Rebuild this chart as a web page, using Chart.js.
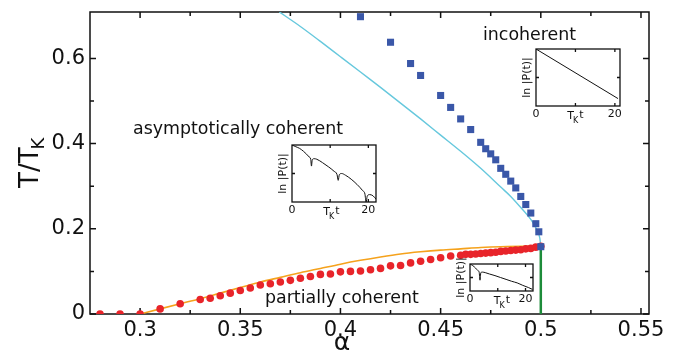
<!DOCTYPE html>
<html>
<head>
<meta charset="utf-8">
<script src="https://cdn.jsdelivr.net/npm/chart.js@4.4.0/dist/chart.umd.min.js"></script>
<style>
  html, body { margin: 0; padding: 0; background: #fff; }
  #wrap { position: relative; width: 680px; height: 354px; overflow: hidden; }
  #wrap canvas { position: absolute; }
</style>
</head>
<body>
<div id="wrap">
  <canvas id="phase" width="680" height="354" style="left:0;top:0"></canvas>
</div>
<script>
// axis ticks
const alphaTicks = [0.3, 0.35, 0.4, 0.45, 0.5, 0.55];
const alphaMinor = [0.325, 0.375, 0.425, 0.475, 0.525];
const tempTicks = [0, 0.2, 0.4, 0.6];
const tempMinor = [0.1, 0.3, 0.5];

// red circles: partially coherent boundary
const redAlpha = [0.28, 0.29, 0.30, 0.31, 0.32, 0.33, 0.335, 0.34, 0.345, 0.35, 0.355, 0.36, 0.365, 0.37,
  0.375, 0.38, 0.385, 0.39, 0.395, 0.40, 0.405, 0.41, 0.415, 0.42, 0.425, 0.43, 0.435, 0.44, 0.445, 0.45,
  0.455, 0.46, 0.4625, 0.465, 0.4675, 0.47, 0.4725, 0.475, 0.4775, 0.48, 0.4825, 0.485, 0.4875, 0.49,
  0.4925, 0.495, 0.4975, 0.5];
const redT = [0, 0, 0, 0.012, 0.024, 0.034, 0.037, 0.043, 0.049, 0.055, 0.061, 0.068, 0.071, 0.075,
  0.079, 0.084, 0.088, 0.093, 0.094, 0.099, 0.100, 0.101, 0.104, 0.107, 0.113, 0.114, 0.120, 0.124, 0.128, 0.132,
  0.136, 0.138, 0.140, 0.140, 0.141, 0.142, 0.143, 0.144, 0.145, 0.147, 0.148, 0.149, 0.150, 0.151,
  0.153, 0.154, 0.157, 0.159];

// blue squares: incoherent boundary
const blueAlpha = [0.41, 0.425, 0.435, 0.44, 0.45, 0.455, 0.46, 0.465, 0.47, 0.4725, 0.475, 0.4775, 0.48,
  0.4825, 0.485, 0.4875, 0.49, 0.4925, 0.495, 0.4975, 0.499, 0.5];
const blueT = [0.698, 0.638, 0.588, 0.560, 0.513, 0.485, 0.458, 0.433, 0.403, 0.388, 0.376, 0.362, 0.342,
  0.328, 0.312, 0.296, 0.276, 0.257, 0.237, 0.212, 0.193, 0.158];

// cyan curve
const cyanAlpha = [0.3695, 0.38, 0.39, 0.40, 0.41, 0.42, 0.43, 0.44, 0.45, 0.46, 0.47, 0.48, 0.485, 0.49, 0.495, 0.498, 0.4995, 0.5];
const cyanT = [0.709, 0.675, 0.640, 0.604, 0.568, 0.532, 0.495, 0.458, 0.420, 0.382, 0.342, 0.298, 0.276, 0.250, 0.222, 0.198, 0.178, 0.159];

// orange curve
const orangeAlpha = [0.30, 0.31, 0.32, 0.33, 0.34, 0.35, 0.36, 0.37, 0.38, 0.39, 0.40, 0.41, 0.42, 0.43, 0.44, 0.45, 0.46, 0.47, 0.48, 0.49, 0.50];
const orangeT = [0, 0.012, 0.024, 0.036, 0.049, 0.062, 0.075, 0.086, 0.097, 0.107, 0.117, 0.126, 0.134, 0.141, 0.146, 0.150, 0.153, 0.156, 0.158, 0.159, 0.159];

// green vertical line at alpha = 1/2
const greenAlpha = [0.5, 0.5];
const greenT = [0, 0.159];

// insets: ln|P(t)| vs T_K t
const asymT = [0, 1, 2, 3, 3.8, 4.5, 4.9, 5.1, 5.3, 5.8, 6.5, 8, 9.5, 11, 11.8, 12.1, 12.4, 13, 14, 15.5, 17, 18.5, 19.1, 19.4, 19.7, 20.3, 21.2, 22];
const asymP = [0, -0.03, -0.06, -0.11, -0.16, -0.21, -0.25, -0.37, -0.26, -0.24, -0.25, -0.31, -0.38, -0.46, -0.52, -0.62, -0.52, -0.50, -0.53, -0.60, -0.69, -0.80, -0.86, -1.0, -0.9, -0.87, -0.89, -0.95];
const incohT = [0, 20.8];
const incohP = [0, -0.87];
const partT = [0, 1, 2, 2.8, 3.3, 3.6, 3.9, 4.5, 5.5, 7, 9, 11, 13, 15, 17, 19, 21, 22.5];
const partP = [0, -0.06, -0.15, -0.24, -0.30, -0.60, -0.32, -0.30, -0.32, -0.37, -0.43, -0.50, -0.57, -0.64, -0.70, -0.79, -0.87, -0.94];

const FONT = "'DejaVu Sans', 'Liberation Sans', sans-serif";
const RED = "#e8242a";
const BLUE = "#3a57a8";
const CYAN = "#66c8dd";
const ORANGE = "#f5a21c";
const GREEN = "#1d8c3a";

Chart.defaults.font.family = FONT;
Chart.defaults.color = "#111";

function pts(xs, ys) {
  return xs.map((x, i) => ({ x: x, y: ys[i] }));
}

// frame + inward tick marks on all four sides
const frameTicks = {
  id: "frameTicks",
  beforeDatasetsDraw(chart, args, o) {
    const { ctx, chartArea: a, scales } = chart;
    const sx = scales.x, sy = scales.y;
    ctx.save();
    ctx.strokeStyle = "#111";
    ctx.lineWidth = o.lineWidth;
    ctx.beginPath();
    (o.x || []).forEach(([v, len]) => {
      const px = sx.getPixelForValue(v);
      ctx.moveTo(px, a.bottom); ctx.lineTo(px, a.bottom - len);
      ctx.moveTo(px, a.top); ctx.lineTo(px, a.top + len);
    });
    (o.y || []).forEach(([v, len]) => {
      const py = sy.getPixelForValue(v);
      ctx.moveTo(a.left, py); ctx.lineTo(a.left + len, py);
      ctx.moveTo(a.right, py); ctx.lineTo(a.right - len, py);
    });
    ctx.stroke();
    ctx.strokeRect(a.left, a.top, a.right - a.left, a.bottom - a.top);
    ctx.restore();
  }
};

// titles and region names on the main plot
const mainText = {
  id: "mainText",
  afterDraw(chart) {
    const ctx = chart.ctx;
    ctx.save();
    ctx.fillStyle = "#111";
    ctx.textBaseline = "middle";
    ctx.textAlign = "left";
    ctx.font = "17.4px " + FONT;
    ctx.fillText("asymptotically coherent", 133, 129);
    ctx.fillText("incoherent", 483, 35);
    ctx.fillText("partially coherent", 265, 298);

    ctx.textAlign = "center";
    ctx.font = "25px " + FONT;
    ctx.fillText("α", 342, 343);

    // T/T_K rotated
    ctx.translate(38, 188);
    ctx.rotate(-Math.PI / 2);
    ctx.textAlign = "left";
    ctx.textBaseline = "alphabetic";
    ctx.font = "26px " + FONT;
    ctx.fillText("T/T", 0, 0);
    const w = ctx.measureText("T/T").width;
    ctx.font = "18px " + FONT;
    ctx.fillText("K", w - 2, 6);
    ctx.restore();
  }
};

new Chart(document.getElementById("phase"), {
  type: "scatter",
  data: {
    datasets: [
      { data: pts(blueAlpha, blueT), pointStyle: "rect", pointRadius: 5, backgroundColor: BLUE, borderWidth: 0, showLine: false, order: 0 },
      { data: pts(redAlpha, redT), pointStyle: "circle", pointRadius: 3.8, backgroundColor: RED, borderWidth: 0, showLine: false, order: 1 },
      { data: pts(greenAlpha, greenT), showLine: true, pointRadius: 0, borderColor: GREEN, borderWidth: 2.5, tension: 0, order: 2 },
      { data: pts(cyanAlpha, cyanT), showLine: true, pointRadius: 0, borderColor: CYAN, borderWidth: 1.4, cubicInterpolationMode: "monotone", order: 3 },
      { data: pts(orangeAlpha, orangeT), showLine: true, pointRadius: 0, borderColor: ORANGE, borderWidth: 1.6, cubicInterpolationMode: "monotone", order: 4 }
    ]
  },
  options: {
    responsive: false,
    animation: false,
    layout: { padding: { top: 12, right: 31, left: 0, bottom: 0 } },
    plugins: {
      legend: { display: false },
      tooltip: { enabled: false },
      frameTicks: {
        lineWidth: 1.5,
        x: alphaTicks.map(v => [v, 6]).concat(alphaMinor.map(v => [v, 4])),
        y: tempTicks.map(v => [v, 6]).concat(tempMinor.map(v => [v, 4]))
      }
    },
    scales: {
      x: {
        type: "linear", min: 0.275, max: 0.554,
        afterBuildTicks: s => { s.ticks = alphaTicks.map(v => ({ value: v })); },
        afterFit: s => { s.height = 40; s.paddingLeft = 0; s.paddingRight = 0; },
        grid: { display: false, drawTicks: false },
        border: { display: false },
        ticks: { autoSkip: false, maxRotation: 0, padding: 4, font: { size: 21 }, callback: v => String(+v.toFixed(2)) }
      },
      y: {
        type: "linear", min: 0, max: 0.709,
        afterBuildTicks: s => { s.ticks = tempTicks.map(v => ({ value: v })); },
        afterFit: s => { s.width = 90; s.paddingTop = 0; s.paddingBottom = 0; },
        grid: { display: false, drawTicks: false },
        border: { display: false },
        ticks: { autoSkip: false, padding: 5, font: { size: 21 }, callback: v => String(+v.toFixed(1)) }
      }
    }
  },
  plugins: [frameTicks, mainText]
});

// inset labels: ln|P(t)| and T_K t
const insetText = {
  id: "insetText",
  afterDraw(chart, args, o) {
    const { ctx, chartArea: a, scales } = chart;
    ctx.save();
    ctx.fillStyle = "#111";
    ctx.translate(a.left - 3, (a.top + a.bottom) / 2);
    ctx.rotate(-Math.PI / 2);
    ctx.textAlign = "center";
    ctx.textBaseline = "bottom";
    ctx.font = "11px " + FONT;
    ctx.fillText("ln |P(t)|", 0, 0);
    ctx.restore();

    ctx.save();
    ctx.fillStyle = "#111";
    ctx.textBaseline = "alphabetic";
    ctx.textAlign = "left";
    ctx.font = "11px " + FONT;
    const wT = ctx.measureText("T").width;
    const wt = ctx.measureText("t").width;
    ctx.font = "8px " + FONT;
    const wK = ctx.measureText("K").width;
    let x = scales.x.getPixelForValue(o.labelAt) - (wT + wK + wt) / 2;
    const base = a.bottom + 13;
    ctx.font = "11px " + FONT;
    ctx.fillText("T", x, base);
    ctx.font = "8px " + FONT;
    ctx.fillText("K", x + wT - 1, base + 4);
    ctx.font = "11px " + FONT;
    ctx.fillText("t", x + wT + wK, base - 1);
    ctx.restore();
  }
};

function makeInset(box, ts, vs, tMax, labelAt) {
  const padL = 24, padT = 8, padR = 6, padB = 22;
  const cv = document.createElement("canvas");
  cv.width = box.w + padL + padR;
  cv.height = box.h + padT + padB;
  cv.style.left = (box.left - padL) + "px";
  cv.style.top = (box.top - padT) + "px";
  document.getElementById("wrap").appendChild(cv);
  new Chart(cv, {
    type: "scatter",
    data: {
      datasets: [{ data: pts(ts, vs), showLine: true, pointRadius: 0, borderColor: "#111", borderWidth: 1, cubicInterpolationMode: "monotone" }]
    },
    options: {
      responsive: false,
      animation: false,
      layout: { padding: { left: padL, top: padT, right: padR, bottom: 0 } },
      plugins: {
        legend: { display: false },
        tooltip: { enabled: false },
        frameTicks: { lineWidth: 1.3, x: [[10, 3], [20, 3]], y: [[-0.5, 3]] },
        insetText: { labelAt: labelAt }
      },
      scales: {
        x: {
          type: "linear", min: 0, max: tMax,
          afterBuildTicks: s => { s.ticks = [0, 20].map(v => ({ value: v })); },
          afterFit: s => { s.height = padB; s.paddingLeft = 0; s.paddingRight = 0; },
          grid: { display: false, drawTicks: false },
          border: { display: false },
          ticks: { autoSkip: false, maxRotation: 0, padding: 2, font: { size: 11 } }
        },
        y: { display: false, min: -1, max: 0 }
      }
    },
    plugins: [frameTicks, insetText]
  });
}

makeInset({ left: 292, top: 145, w: 84, h: 57 }, asymT, asymP, 22, 10.3);
makeInset({ left: 536, top: 49, w: 84, h: 57 }, incohT, incohP, 21.3, 10);
makeInset({ left: 470, top: 264, w: 63, h: 27 }, partT, partP, 22.7, 11.5);
</script>
</body>
</html>
